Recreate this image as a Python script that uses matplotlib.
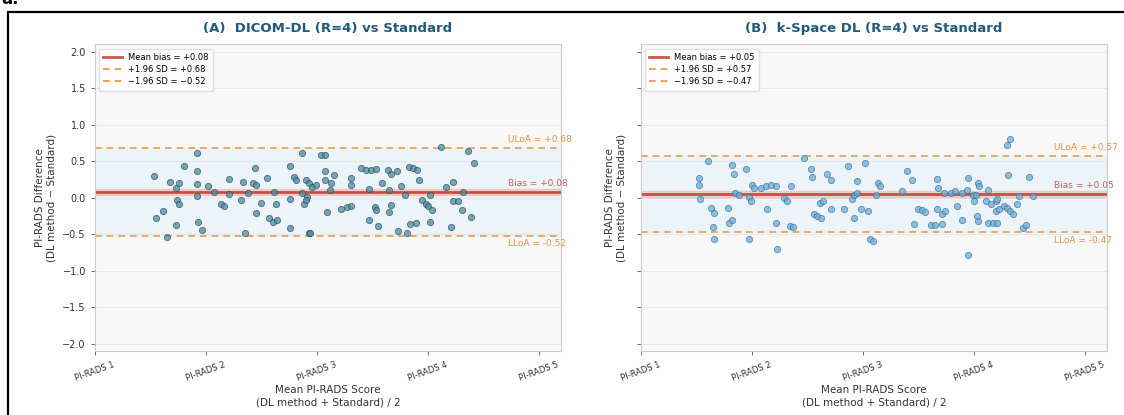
import numpy as np
import matplotlib
matplotlib.use("Agg")
import matplotlib.pyplot as plt
from matplotlib.lines import Line2D
from matplotlib.patches import Rectangle

# ---------------- data ----------------
tick_labels = ["PI-RADS 1", "PI-RADS 2", "PI-RADS 3", "PI-RADS 4", "PI-RADS 5"]
tick_pos = [1, 2, 3, 4, 5]

titles = ["(A)  DICOM-DL (R=4) vs Standard", "(B)  k-Space DL (R=4) vs Standard"]

bias_a, upper_a, lower_a = 0.08, 0.68, -0.52
bias_b, upper_b, lower_b = 0.05, 0.57, -0.47

mean_a = [1.53, 1.55, 1.61, 1.65, 1.68, 1.73, 1.74, 1.76, 1.73, 1.76, 1.80, 1.92, 1.92, 1.92,
          1.92, 1.93, 1.96, 2.02, 2.07, 2.14, 2.16, 2.21, 2.21, 2.33, 2.32, 2.35, 2.38, 2.44,
          2.42, 2.45, 2.50, 2.45, 2.55, 2.57, 2.60, 2.64, 2.61, 2.63, 2.76, 2.76, 2.76, 2.79,
          2.81, 2.87, 2.87, 2.88, 2.93, 3.04, 3.07, 2.90, 2.93, 2.96, 2.99, 2.91, 2.90, 3.07,
          3.15, 3.07, 3.13, 3.12, 3.09, 2.94, 3.22, 3.27, 3.31, 3.31, 3.31, 3.40, 3.44, 3.49,
          3.53, 3.47, 3.52, 3.53, 3.47, 3.55, 3.59, 3.64, 3.67, 3.72, 3.65, 3.67, 3.65, 3.73,
          3.76, 3.79, 3.81, 3.84, 3.89, 3.83, 3.87, 3.90, 3.92, 3.95, 3.98, 4.00, 4.04, 4.02,
          4.02, 4.16, 4.23, 4.21, 4.23, 4.27, 4.32, 4.31, 4.39, 4.12, 4.36, 4.42]
diff_a = [0.30, -0.28, -0.18, -0.54, 0.22, 0.13, -0.03, -0.08, -0.37, 0.20, 0.43, 0.61, 0.36, 0.19,
          0.02, -0.33, -0.44, 0.16, 0.08, -0.09, -0.12, 0.25, 0.05, 0.22, -0.03, -0.49, 0.07, 0.40,
          0.20, 0.18, -0.07, -0.21, 0.27, -0.28, -0.33, -0.31, 0.08, -0.09, 0.43, -0.02, -0.41, 0.29,
          0.24, 0.61, 0.06, -0.08, -0.49, 0.58, 0.58, 0.24, 0.20, 0.15, 0.17, 0.01, -0.03, 0.36,
          0.31, 0.24, 0.20, 0.11, -0.19, -0.49, -0.15, -0.13, -0.11, 0.27, 0.17, 0.40, 0.38, 0.38,
          0.39, 0.12, -0.13, -0.17, -0.31, -0.39, 0.20, 0.38, 0.33, 0.36, 0.11, -0.10, -0.19, -0.46,
          0.16, 0.04, -0.49, -0.36, -0.34, 0.42, 0.40, 0.38, 0.24, -0.03, -0.08, -0.12, -0.17, -0.33,
          0.04, 0.15, 0.22, -0.40, -0.05, -0.05, 0.08, -0.17, -0.26, 0.69, 0.64, 0.48]

mean_b = [1.52, 1.52, 1.53, 1.60, 1.63, 1.66, 1.65, 1.66, 1.78, 1.79, 1.82, 1.82, 1.84, 1.85,
          1.88, 1.95, 1.97, 1.99, 1.97, 2.00, 2.02, 2.08, 2.13, 2.17, 2.22, 2.14, 2.22, 2.23,
          2.29, 2.32, 2.35, 2.34, 2.37, 2.47, 2.53, 2.54, 2.56, 2.59, 2.62, 2.61, 2.64, 2.68,
          2.71, 2.71, 2.83, 2.87, 2.90, 2.92, 2.95, 2.92, 2.95, 2.98, 3.05, 3.06, 3.02, 3.14,
          3.15, 3.12, 3.09, 3.35, 3.40, 3.44, 3.46, 3.50, 3.53, 3.56, 3.61, 3.65, 3.71, 3.67,
          3.68, 3.67, 3.71, 3.74, 3.73, 3.79, 3.83, 3.85, 3.89, 3.89, 3.94, 3.95, 3.95, 3.99,
          4.02, 4.00, 4.04, 4.05, 4.03, 4.04, 4.11, 4.15, 4.20, 4.13, 4.13, 4.17, 4.21, 4.20,
          4.23, 4.21, 4.27, 4.30, 4.33, 4.35, 4.31, 4.39, 4.41, 4.44, 4.47, 4.50, 4.53, 4.30,
          4.33]
diff_b = [0.27, 0.18, -0.02, 0.50, -0.14, -0.21, -0.40, -0.57, -0.14, -0.35, -0.30, 0.45, 0.33, 0.07,
          0.04, 0.39, 0.01, -0.05, -0.57, 0.18, 0.13, 0.13, 0.16, 0.18, 0.16, -0.16, -0.35, -0.70,
          0.00, -0.05, 0.16, -0.39, -0.40, 0.55, 0.39, 0.29, -0.23, -0.25, -0.28, -0.07, -0.05, 0.33,
          0.24, -0.16, -0.15, 0.43, -0.02, 0.04, 0.07, -0.28, 0.23, -0.16, -0.18, -0.57, 0.48, 0.20,
          0.16, 0.04, -0.59, 0.09, 0.37, 0.24, -0.36, -0.15, -0.17, -0.19, -0.38, -0.38, -0.36, 0.25,
          0.13, -0.16, -0.23, -0.18, 0.07, 0.07, 0.09, -0.12, -0.30, 0.07, 0.11, 0.27, -0.79, 0.04,
          0.04, -0.04, 0.20, 0.16, -0.25, -0.32, -0.05, -0.09, -0.05, 0.11, -0.35, -0.35, -0.35, -0.18,
          -0.15, -0.02, -0.12, -0.14, -0.18, -0.22, 0.31, -0.09, 0.02, -0.41, -0.38, 0.28, 0.02, 0.72,
          0.80]

panels = [
    (mean_a, diff_a, bias_a, upper_a, lower_a),
    (mean_b, diff_b, bias_b, upper_b, lower_b),
]
point_face = ["#4a8ca3", "#6aaedb"]
point_edge = ["#2c4a57", "#3c6f93"]

# ---------------- figure ----------------
W, H = 1124, 415
fig = plt.figure(figsize=(W / 100, H / 100), dpi=100)
fig.patch.set_facecolor("white")

# outer black frame (cut at right/bottom)
fig.add_artist(Rectangle((8 / W, -0.05), 1.2, 1 - 12 / H + 0.05, transform=fig.transFigure,
                         fill=False, edgecolor="black", linewidth=1.6, clip_on=False))
fig.text(1 / W, 1 + 1 / H, "a.", fontsize=12, fontweight="bold", ha="left", va="center")

ax_left = [95 / W, 641 / W]
ax_w = 466 / W
ax_bottom = 1 - 351 / H
ax_h = 306.6 / H

title_color = "#1f5a7a"
red = "#c0392b"
orange = "#e8923a"

for i, (m, d, bias, up, lo) in enumerate(panels):
    ax = fig.add_axes([ax_left[i], ax_bottom, ax_w, ax_h])
    ax.set_facecolor("#f8f8f8")
    ax.set_xlim(1.0, 5.2)
    ax.set_ylim(-2.1, 2.1)

    ax.axhspan(lo, up, color="#e6f2fb", alpha=0.6, zorder=0)
    ax.axhspan(bias - 0.045, bias + 0.045, color="#f1948a", alpha=0.35, zorder=1)
    ax.axhline(bias, color=red, lw=2.0, alpha=0.85, zorder=2)
    ax.axhline(up, color=orange, lw=1.2, ls=(0, (4, 3)), alpha=0.9, zorder=2)
    ax.axhline(lo, color=orange, lw=1.2, ls=(0, (4, 3)), alpha=0.9, zorder=2)

    ax.scatter(m, d, s=20, c=point_face[i], edgecolors=point_edge[i], linewidths=0.6,
               alpha=0.75, zorder=3)

    ax.text(4.72, up + 0.05, f"ULoA = {up:+.2f}", color=orange, fontsize=6.5,
            ha="left", va="bottom", clip_on=False, zorder=4)
    ax.text(4.72, bias + 0.05, f"Bias = {bias:+.2f}", color=red, fontsize=6.5,
            ha="left", va="bottom", clip_on=False, zorder=4, alpha=0.8)
    ax.text(4.72, lo - 0.05, f"LLoA = {lo:+.2f}", color=orange, fontsize=6.5,
            ha="left", va="top", clip_on=False, zorder=4)

    ax.set_xticks(tick_pos)
    ax.set_xticklabels(tick_labels, rotation=20, ha="center", fontsize=6)
    ax.set_yticks(np.arange(-2.0, 2.01, 0.5))
    if i == 0:
        ax.set_yticklabels([f"{v:.1f}".replace("-", "\u2212") for v in np.arange(-2.0, 2.01, 0.5)],
                           fontsize=7)
    else:
        ax.set_yticklabels([])
    ax.tick_params(colors="#555555", length=3, width=0.6, labelcolor="#333333")
    ax.yaxis.grid(True, color="#e4e4e4", lw=0.6)
    ax.set_axisbelow(True)
    for s in ax.spines.values():
        s.set_color("#cccccc")
        s.set_linewidth(0.8)

    ax.set_title(titles[i], fontsize=9.5, fontweight="bold", color=title_color, pad=9)
    ax.set_xlabel("Mean PI-RADS Score\n(DL method + Standard) / 2", fontsize=7.5,
                  color="#333333", labelpad=2)
    ax.set_ylabel("PI-RADS Difference\n(DL method \u2212 Standard)", fontsize=7.5,
                  color="#333333", labelpad=4)

    handles = [
        Line2D([], [], color=red, lw=2.0, alpha=0.85),
        Line2D([], [], color=orange, lw=1.2, ls=(0, (4, 3))),
        Line2D([], [], color=orange, lw=1.2, ls=(0, (4, 3))),
    ]
    labels = [f"Mean bias = {bias:+.2f}", f"+1.96 SD = {up:+.2f}",
              f"\u22121.96 SD = {lo:+.2f}".replace("-", "\u2212")]
    ax.legend(handles, labels, loc="upper left", fontsize=6, frameon=True,
              framealpha=0.9, edgecolor="#dddddd", borderpad=0.5, handlelength=2.2,
              labelspacing=0.4)

fig.savefig("out.png", dpi=100, facecolor="white")
